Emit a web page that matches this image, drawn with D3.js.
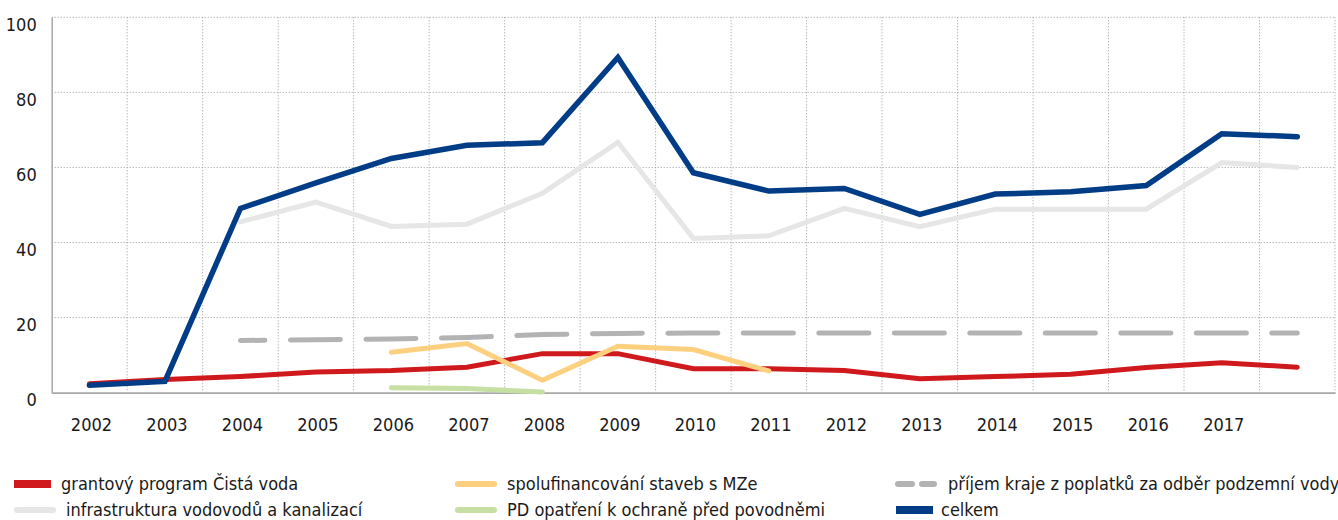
<!DOCTYPE html>
<html>
<head>
<meta charset="utf-8">
<script src="https://cdn.jsdelivr.net/npm/d3@7"></script>
<style>
	body{
		margin: 0; background: #fff;
	}
	.chart text{
		font-family: "DejaVu Sans Condensed", "Liberation Sans Narrow", sans-serif;
		fill: #1a1a1a;
	}
	.grid line{
		stroke: #9a9a9a; stroke-width: 1; stroke-dasharray: 1 2;
	}
	.series{
		fill: none; stroke-linecap: round; stroke-linejoin: miter;
	}
</style>
</head>
<body>
<svg class="chart" width="1338" height="520"></svg>
<script>
	// categories and tick labels (last year has no label in the original)
	const years = ['2002','2003','2004','2005','2006','2007','2008','2009','2010','2011','2012','2013','2014','2015','2016','2017','2018'];
	const yearLabels = ['2002','2003','2004','2005','2006','2007','2008','2009','2010','2011','2012','2013','2014','2015','2016','2017',''];
	const yTicks = [0, 20, 40, 60, 80, 100];

	// series values (null = no data)
	const grantovy = [2.4, 3.5, 4.3, 5.5, 5.9, 6.8, 10.4, 10.4, 6.4, 6.4, 5.9, 3.7, 4.3, 4.9, 6.7, 8.0, 6.8];
	const infrastruktura = [null, null, 45.5, 50.8, 44.3, 44.9, 53.1, 66.7, 41.1, 41.8, 49.1, 44.2, 48.9, 48.9, 48.9, 61.3, 60.0];
	const spolufinancovani = [null, null, null, null, 10.8, 13.1, 3.3, 12.4, 11.5, 5.8, null, null, null, null, null, null, null];
	const pdOpatreni = [null, null, null, null, 1.3, 1.1, 0.2, null, null, null, null, null, null, null, null, null, null];
	const prijemKraje = [null, null, 13.9, 14.1, 14.3, 14.7, 15.5, 15.8, 15.9, 15.9, 15.9, 15.9, 15.9, 15.9, 15.9, 15.9, 15.9];
	const celkem = [2.0, 3.0, 49.1, 55.9, 62.4, 65.9, 66.6, 89.3, 58.6, 53.7, 54.4, 47.5, 52.9, 53.5, 55.2, 69.0, 68.2];

	const seriesNames = ['grantový program Čistá voda', 'infrastruktura vodovodů a kanalizací',
		'spolufinancování staveb s MZe', 'PD opatření k ochraně před povodněmi',
		'příjem kraje z poplatků za odběr podzemní vody', 'celkem'];

	const svg = d3.select('svg');
	const plot = {left: 51.7, right: 1335, top: 17.3, bottom: 392.7};

	const x = d3.scaleBand().domain(years).range([plot.left, plot.right]).padding(0);
	const y = d3.scaleLinear().domain([0, 100]).range([plot.bottom, plot.top]);

	// grid
	const grid = svg.append('g').attr('class', 'grid');
	grid.selectAll('.hg').data(yTicks.filter(d => d > 0)).enter().append('line')
		.attr('x1', plot.left).attr('x2', plot.right)
		.attr('y1', d => y(d)).attr('y2', d => y(d));
	grid.selectAll('.vg').data(years).enter().append('line')
		.attr('x1', d => x(d) + x.bandwidth()).attr('x2', d => x(d) + x.bandwidth())
		.attr('y1', plot.top).attr('y2', plot.bottom);

	// axes
	const yAxis = svg.append('g')
		.attr('transform', `translate(${plot.left},0)`)
		.call(d3.axisLeft(y).tickValues(yTicks).tickSize(0).tickPadding(15));
	yAxis.select('.domain').attr('stroke', '#a8a8a8').attr('stroke-width', 1.5);
	yAxis.selectAll('text').attr('font-size', 18).attr('dy', 0).attr('y', 13);

	const xAxis = svg.append('g')
		.attr('transform', `translate(0,${plot.bottom})`)
		.call(d3.axisBottom(x).tickFormat((d, i) => yearLabels[i]).tickSize(0).tickPadding(26));
	xAxis.select('.domain').attr('stroke', '#a8a8a8').attr('stroke-width', 1.8);
	xAxis.selectAll('text').attr('font-size', 18).attr('dx', 2);

	const line = d3.line()
		.defined(d => d != null)
		.x((d, i) => x(years[i]) + x.bandwidth() / 2)
		.y(d => y(d));

	const draw = (data, color, width, dash) => {
		const p = svg.append('path').datum(data)
			.attr('class', 'series')
			.attr('stroke', color)
			.attr('stroke-width', width)
			.attr('d', line);
		if(dash){
			p.attr('stroke-dasharray', dash).attr('stroke-dashoffset', 25.5);
		}
		return p;
	};
	draw(infrastruktura, '#e6e6e6', 5);
	draw(prijemKraje, '#b3b3b3', 5, '50 25.5');
	draw(grantovy, '#cf191d', 5);
	draw(pdOpatreni, '#c6e0a4', 5);
	draw(spolufinancovani, '#fdd07f', 5);
	draw(celkem, '#003d86', 5.5);

	// legend
	const legend = svg.append('g');
	const items = [
		{name: seriesNames[0], color: '#cf191d', col: 0, row: 0, type: 'bar'},
		{name: seriesNames[1], color: '#e6e6e6', col: 0, row: 1, type: 'round', tx: 66},
		{name: seriesNames[2], color: '#fdd07f', col: 1, row: 0, type: 'round'},
		{name: seriesNames[3], color: '#c6e0a4', col: 1, row: 1, type: 'round'},
		{name: seriesNames[4], color: '#b3b3b3', col: 2, row: 0, type: 'dash'},
		{name: seriesNames[5], color: '#003d86', col: 2, row: 1, type: 'bar', tx: 941}
	];
	const colX = [14, 455, 896], colTx = [61, 507, 948], rowY = [484, 510];
	items.forEach(it => {
		const sx = colX[it.col], sy = rowY[it.row];
		if(it.type === 'bar'){
			legend.append('rect').attr('x', sx).attr('y', sy - 4).attr('width', 37).attr('height', 8).attr('fill', it.color);
		}
		else if(it.type === 'round'){
			legend.append('line').attr('x1', sx + 3).attr('x2', sx + 39).attr('y1', sy).attr('y2', sy)
				.attr('stroke', it.color).attr('stroke-width', 6).attr('stroke-linecap', 'round');
		}
		else{
			legend.append('line').attr('x1', sx + 2).attr('x2', sx + 38).attr('y1', sy).attr('y2', sy)
				.attr('stroke', it.color).attr('stroke-width', 6).attr('stroke-linecap', 'round')
				.attr('stroke-dasharray', '14 10');
		}
		legend.append('text')
			.attr('x', it.tx || colTx[it.col]).attr('y', sy + 6)
			.attr('font-size', 18)
			.text(it.name);
	});
</script>
</body>
</html>
